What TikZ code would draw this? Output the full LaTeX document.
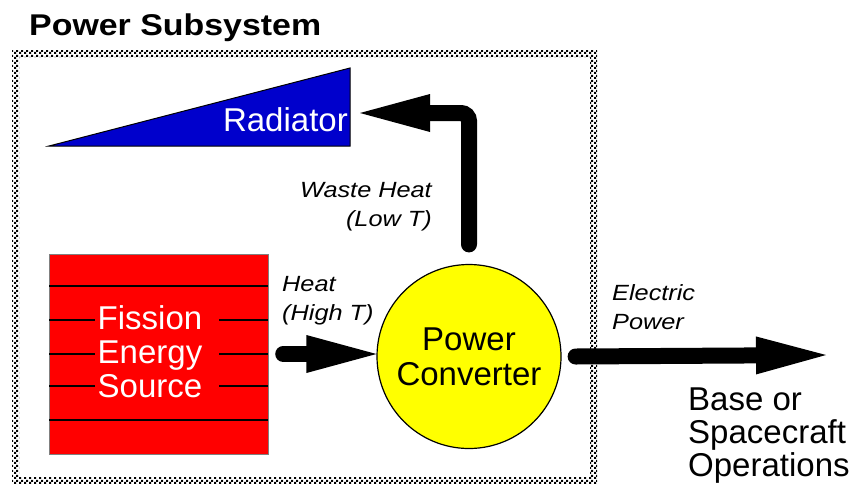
\documentclass[tikz,border=0pt]{standalone}
\usepackage{fontspec}
\setmainfont{Liberation Sans}
\usetikzlibrary{arrows.meta,patterns}
\definecolor{fissionred}{HTML}{FF0000}
\definecolor{radblue}{HTML}{0000CC}
\definecolor{convyellow}{HTML}{FFFF00}
\newcommand{\wide}[1]{\scalebox{1.15}[1]{#1}}
\pgfdeclarepatternformonly{finechecker}{\pgfpointorigin}{\pgfqpoint{4.6pt}{4.6pt}}{\pgfqpoint{4.6pt}{4.6pt}}{%
  \pgfpathrectangle{\pgfpointorigin}{\pgfqpoint{2.3pt}{2.3pt}}%
  \pgfpathrectangle{\pgfqpoint{2.3pt}{2.3pt}}{\pgfqpoint{2.3pt}{2.3pt}}%
  \pgfusepath{fill}}

\begin{document}
\begin{tikzpicture}[x=1pt,y=-1pt,
  flow/.style={line width=16pt,line cap=round,-{Triangle[length=70pt,width=38pt,line width=0pt]}},
  biglabel/.style={font=\fontsize{33}{34}\selectfont,inner sep=0pt},
  smalllabel/.style={font=\fontsize{22}{29}\selectfont\itshape,inner sep=0pt}]
  \useasboundingbox (0,0) rectangle (858,488);
  \fill[white] (0,0) rectangle (858,488);
  % checkered frame of the subsystem
  \fill[pattern=finechecker,even odd rule] (12,50) rectangle (597,484) (19,57) rectangle (590,477);
  \node[anchor=base west,font=\fontsize{30}{34}\selectfont\bfseries,inner sep=0pt] (title) at (29,35) {\scalebox{1.13}[1]{Power Subsystem}};

  % radiator
  \fill[radblue,draw=black,line width=1pt] (49,146) -- (350,68) -- (350,146) -- cycle;
  \node[biglabel,anchor=base east,text=white] (rad) at (348,131) {Radiator};
  \coordinate (radin) at (360,113);

  % fission source
  \node[draw=gray,fill=fissionred,minimum width=219pt,minimum height=200pt,inner sep=0pt] (fission) at (158.5,354) {};
  \foreach \y in {286,420} \draw[line width=1.3pt] (49,\y) -- (268,\y);
  \foreach \y in {320,354,386} {
    \draw[line width=1.3pt] (49,\y) -- (95,\y);
    \draw[line width=1.3pt] (219,\y) -- (268,\y);
  }
  \node[biglabel,text=white,align=center] (fisstext) at (150,352) {Fission\\Energy\\Source};

  % converter
  \node[circle,draw=black,line width=1.2pt,fill=convyellow,minimum size=184pt,inner sep=0pt,align=center,font=\fontsize{33}{35}\selectfont] (conv) at (469,356.5) {Power\\Converter};

  % flows
  \draw[flow] ([xshift=15pt]fission.east) -- (conv.west |- fission.east);
  \draw[flow,rounded corners=8pt] ([yshift=19.5pt]conv.north) |- (radin);
  \coordinate (elecend) at (826,355);
  \draw[flow] ([xshift=14pt]conv.east) -- (elecend);

  % labels
  \node[smalllabel,anchor=north west,align=left] (heatlbl) at (282,276) {\wide{Heat}\\\wide{(High T)}};
  \node[smalllabel,anchor=north east,align=right] (wastelbl) at (432,182) {\wide{Waste Heat}\\\wide{(Low T)}};
  \node[smalllabel,anchor=north west,align=left] (eleclbl) at (612,284) {\wide{Electric}\\\wide{Power}};
  \node[biglabel,anchor=north west,align=left,font=\fontsize{33}{33}\selectfont] (ops) at (688,388) {Base or\\Spacecraft\\Operations};
\end{tikzpicture}
\end{document}
